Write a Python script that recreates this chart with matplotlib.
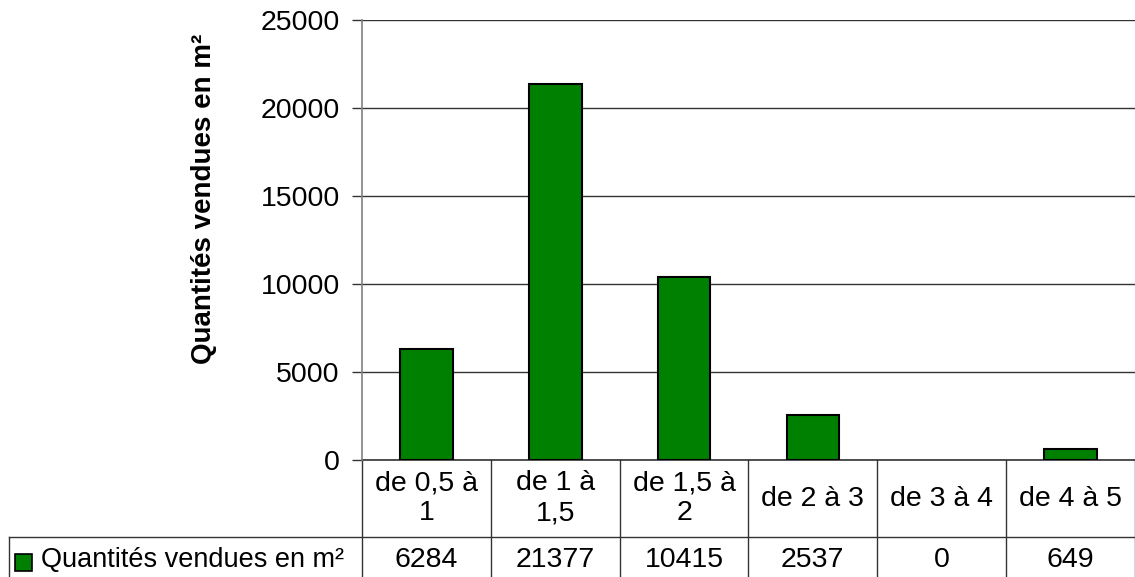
import matplotlib.pyplot as plt
from matplotlib.patches import Rectangle
from matplotlib.transforms import blended_transform_factory

plt.rcParams['font.family'] = ['Liberation Sans', 'DejaVu Sans']

categories = ['de 0,5 à\n1', 'de 1 à\n1,5', 'de 1,5 à\n2', 'de 2 à 3', 'de 3 à 4', 'de 4 à 5']
values = [6284, 21377, 10415, 2537, 0, 649]
series_name = 'Quantités vendues en m²'
yticks = [0, 5000, 10000, 15000, 20000, 25000]

W, H = 1135, 577
fs = 20.5
fig = plt.figure(figsize=(W / 100, H / 100), dpi=100)
ax = fig.add_axes([362 / W, (H - 460) / H, 773 / W, 440 / H])

x = list(range(len(values)))
edges = ['black' if v > 0 else 'none' for v in values]
ax.bar(x, values, width=0.41, color='#008000', edgecolor=edges, linewidth=1.5, zorder=3)

ax.set_xlim(-0.5, len(values) - 0.5)
ax.set_ylim(0, 25000)
ax.set_yticks(yticks)
ax.set_yticklabels([str(t) for t in yticks], fontsize=fs)
ax.set_xticks([])
ax.tick_params(axis='y', length=7, width=1, color='#333333', pad=9)
ax.grid(axis='y', color='#333333', linewidth=1, zorder=0)
for s in ['top', 'right', 'bottom']:
    ax.spines[s].set_visible(False)
ax.spines['left'].set_color('#808080')
ax.spines['left'].set_linewidth(1.2)
ax.set_ylabel(series_name, fontsize=20, fontweight='bold')
ax.yaxis.set_label_coords(-0.188, 0.593)

# data table under the plot
tr = blended_transform_factory(ax.transData, ax.transAxes)
row1 = -77 / 440
row2 = -200 / 440
lc = '#333333'
for i in range(len(values) + 1):
    ax.plot([i - 0.5, i - 0.5], [0, row2], transform=tr, color=lc, lw=1, clip_on=False)
ax.plot([-0.5, len(values) - 0.5], [0, 0], transform=tr, color=lc, lw=1.2, clip_on=False)

# row-2 top border extends over the legend cell
fig.add_artist(plt.Line2D([9 / W, 1], [(H - 537) / H, (H - 537) / H], color=lc, lw=1))
fig.add_artist(plt.Line2D([9 / W, 9 / W], [(H - 537) / H, 0], color=lc, lw=1))

for i, (c, v) in enumerate(zip(categories, values)):
    ax.text(i, row1 / 2, c, transform=tr, ha='center', va='center', fontsize=fs,
            linespacing=1.2)
    fig.text((362 + 128.8 * (i + 0.5)) / W, (H - 560) / H, str(v), ha='center', va='center',
             fontsize=fs)

fig.add_artist(Rectangle((15 / W, (H - 571) / H), 17 / W, 17 / H, facecolor='#008000',
                         edgecolor='black', lw=1.2, transform=fig.transFigure))
fig.text(41 / W, (H - 560) / H, series_name, ha='left', va='center', fontsize=19.5)

fig.savefig('out.png', dpi=100)
